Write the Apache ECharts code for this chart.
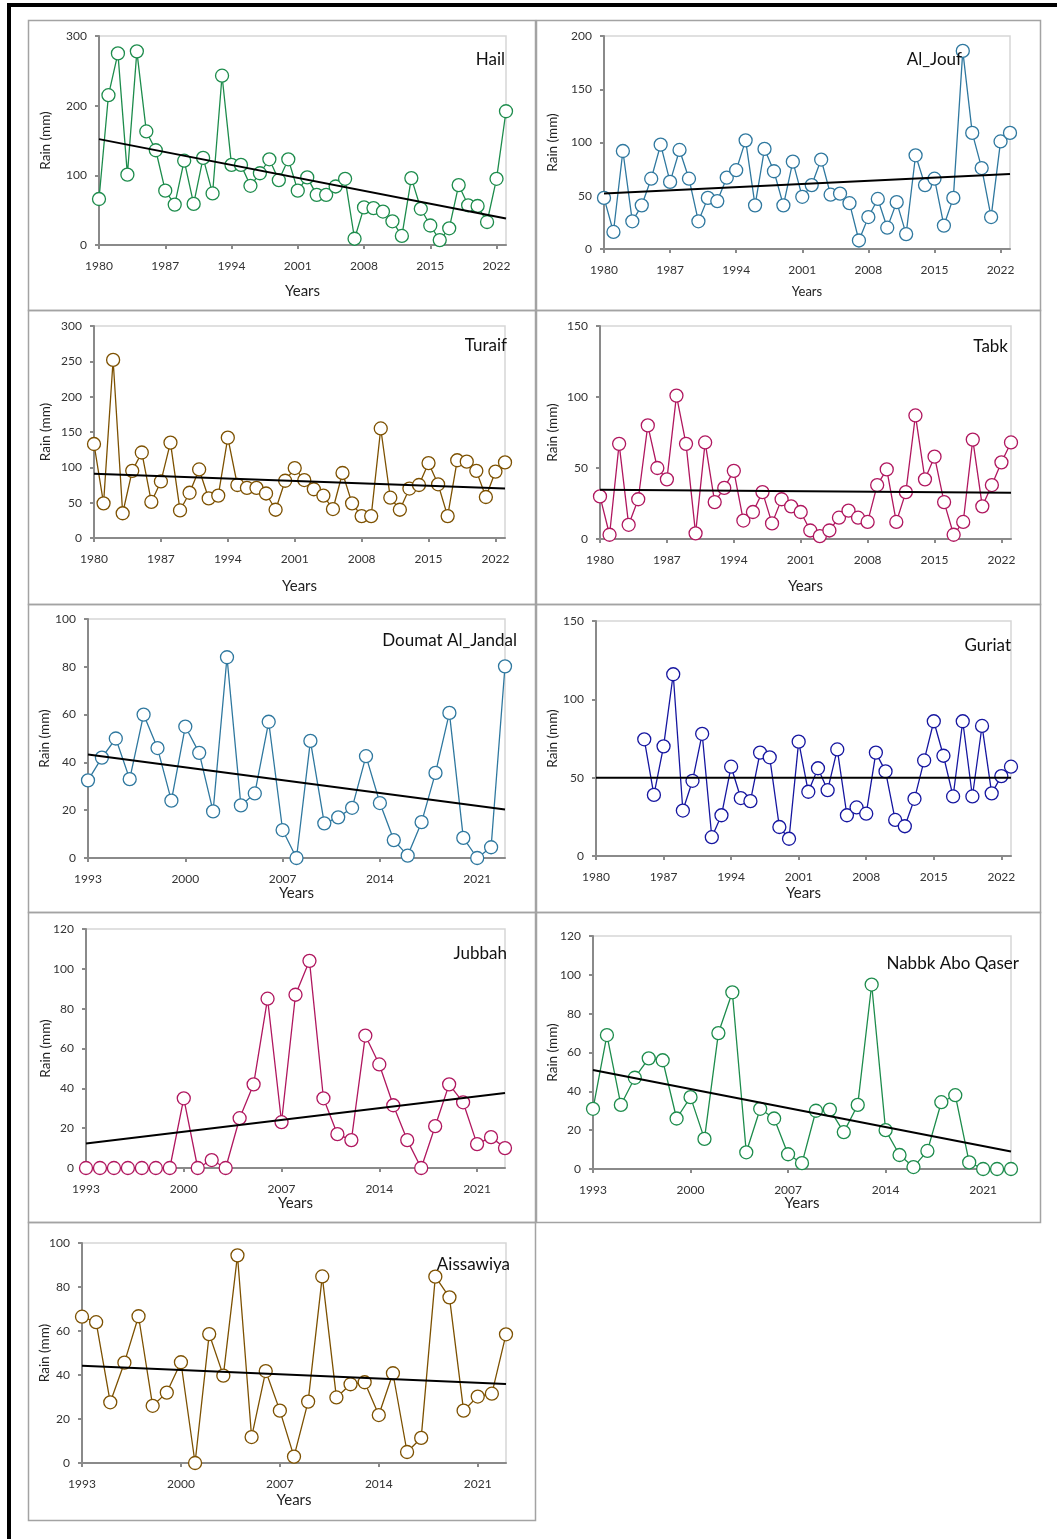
<!DOCTYPE html>
<html>
<head>
<meta charset="utf-8">
<script src="https://cdn.jsdelivr.net/npm/echarts@6/dist/echarts.min.js"></script>
<style>
html,body{margin:0;padding:0;background:#fff;}
#main{width:1057px;height:1539px;}
</style>
</head>
<body>
<div id="main"></div>
<script>
// category helpers
function yearRange(a, b) {
    let out = [];
    for (let y = a; y <= b; y++) out.push(String(y));
    return out;
}
const years80 = yearRange(1980, 2023);
const years93 = yearRange(1993, 2023);
const guriatYears = yearRange(1985, 2023);

// rainfall (mm)
const hailRain = [66,215,275,101,278,163,136,78,58,121, 59,125,74,243,115,115,85,103,123,93,
    123,78,97,72,72,84,95,9,54,53, 48,34,13,96,52,28,7,24,86,57, 56,33,95,192];
const alJoufRain = [48,16,92,26,41,66,98,63,93,66, 26,48,45,67,74,102,41,94,73,41,
    82,49,60,84,51,52,43,8,30,47, 20,44,14,88,60,66,22,48,186,109, 76,30,101,109];
const turaifRain = [133,49,252,35,95,121,51,80,135,39, 64,97,56,60,142,75,71,71,63,40,
    81,99,82,69,60,41,92,49,31,31, 155,57,40,70,75,106,76,31,110,108, 95,58,94,107];
const tabkRain = [30,3,67,10,28,80,50,42,101,67, 4,68,26,36,48,13,19,33,11,28,
    23,19,6,2,6,15,20,15,12,38, 49,12,33,87,42,58,26,3,12,70, 23,38,54,68];
const doumatRain = [32.5,42,50,33,60,46,24,55,44,19.5, 84,22,27,57,11.7,0,49,14.5,17,21,
    42.6,23,7.5,1,15,35.6,60.7,8.4,0,4.5, 80.2];
const guriatRain = [74.5,39,70,116,29,48,78,12,26,57, 37,35,66,63,18.5,11,73,41,56,42,
    68,26,31,27,66,54,23,19,36.5,61, 86,64,38,86,38,83,40,51,57];
const jubbahRain = [0,0,0,0,0,0,0,35,0,4, 0,25,42,85,23,87,104,35,17,14,
    66.5,52,31.5,14,0,21,42,33,12,15.5, 10];
const nabbkRain = [31,69,33,47,57,56,26,37,15.5,70, 91,8.6,31,26,7.6,3,30,30.6,19,33,
    95,20,7.2,1,9.3,34.4,38,3.4,0,0, 0];
const aissawiyaRain = [66.5,64,27.6,45.6,66.7,26,32,45.8,0,58.6, 39.7,94.4,11.8,41.8,23.8,2.9,27.9,84.8,29.8,35.8,
    36.7,21.8,40.8,5,11.4,84.7,75.3,23.8,30.2,31.5, 58.5];

// linear trend, value at first and last year
const hailTrend = [152, 38];
const alJoufTrend = [52, 70.5];
const turaifTrend = [91, 70];
const tabkTrend = [34.7, 32.6];
const doumatTrend = [43.3, 20.3];
const guriatTrend = [50, 50];
const jubbahTrend = [12.3, 37.6];
const nabbkTrend = [51, 9];
const aissawiyaTrend = [44.2, 35.9];

// y axis scales [max, step]
const hailScale = [300, 100];
const alJoufScale = [200, 50];
const turaifScale = [300, 50];
const tabkScale = [150, 50];
const doumatScale = [100, 20];
const guriatScale = [150, 50];
const jubbahScale = [120, 20];
const nabbkScale = [120, 20];
const aissawiyaScale = [100, 20];

let panels = [
    {name:'Hail', axis:years80, yrs:years80, rain:hailRain, trend:hailTrend, scale:hailScale, color:'#1d8c4c',
        g:[99,36,506,245], title:[505,60], yName:46, xName:292, xSize:15},
    {name:'Al_Jouf', axis:years80, yrs:years80, rain:alJoufRain, trend:alJoufTrend, scale:alJoufScale, color:'#2f789f',
        g:[604,36,1010,249], title:[962,60], yName:553, xName:293, xSize:13},
    {name:'Turaif', axis:years80, yrs:years80, rain:turaifRain, trend:turaifTrend, scale:turaifScale, color:'#7d5100',
        g:[94,326,505,538], title:[507,346], yName:46, xName:587, xSize:15},
    {name:'Tabk', axis:years80, yrs:years80, rain:tabkRain, trend:tabkTrend, scale:tabkScale, color:'#b0175f',
        g:[600,326,1011,539], title:[1008,347], yName:553, xName:587, xSize:15},
    {name:'Doumat Al_Jandal', axis:years93, yrs:years93, rain:doumatRain, trend:doumatTrend, scale:doumatScale, color:'#2f789f',
        g:[88,619,505,858], title:[517,641], yName:45, xName:894, xSize:15},
    {name:'Guriat', axis:years80, yrs:guriatYears, rain:guriatRain, trend:guriatTrend, scale:guriatScale, color:'#1616a0',
        g:[596,621,1011,856], title:[1011,646], yName:553, xName:894, xSize:15},
    {name:'Jubbah', axis:years93, yrs:years93, rain:jubbahRain, trend:jubbahTrend, scale:jubbahScale, color:'#b0175f',
        g:[86,929,505,1168], title:[507,954], yName:46, xName:1204, xSize:15},
    {name:'Nabbk Abo Qaser', axis:years93, yrs:years93, rain:nabbkRain, trend:nabbkTrend, scale:nabbkScale, color:'#1d8c4c',
        g:[593,936,1011,1169], title:[1019,964], yName:553, xName:1204, xSize:15},
    {name:'Aissawiya', axis:years93, yrs:years93, rain:aissawiyaRain, trend:aissawiyaTrend, scale:aissawiyaScale, color:'#7d5100',
        g:[82,1243,506,1463], title:[510,1265], yName:45, xName:1501, xSize:15}
];

// panel frames
let boxes = [
    [28,20,507,290],[536,20,504,290],
    [28,310,507,294],[536,310,504,294],
    [28,604,507,308],[536,604,504,308],
    [28,912,507,310],[536,912,504,310],
    [28,1222,507,298]
];

let FONT = 'Lato';
let grids = [], xAxes = [], yAxes = [], series = [], graphics = [];

graphics.push({type:'rect', shape:{x:7,y:3,width:1050,height:4}, style:{fill:'#000'}, z:10});
graphics.push({type:'rect', shape:{x:7,y:3,width:4,height:1536}, style:{fill:'#000'}, z:10});
boxes.forEach(function(b){
    graphics.push({type:'rect', shape:{x:b[0]+0.5,y:b[1]+0.5,width:b[2],height:b[3]},
        style:{fill:'none', stroke:'#a3a3a3', lineWidth:1.5}, z:10});
});

panels.forEach(function(p, i){
    grids.push({
        left:p.g[0], top:p.g[1], width:p.g[2]-p.g[0], height:p.g[3]-p.g[1],
        show:true, borderColor:'#d6d6d6', borderWidth:1.5, containLabel:false
    });
    xAxes.push({
        gridIndex:i, type:'category', data:p.axis, boundaryGap:false,
        name:'Years', nameLocation:'middle', nameGap:p.xName - p.g[3] - p.xSize/2 - 1,
        nameMoveOverlap:false,
        nameTextStyle:{fontFamily:FONT, fontSize:p.xSize, color:'#222'},
        axisLine:{lineStyle:{color:'#8a8a8a', width:2}},
        axisTick:{length:4, interval:function(idx){ return idx % 7 === 0; }, lineStyle:{color:'#8a8a8a', width:2}},
        axisLabel:{margin:15, interval:function(idx){ return idx % 7 === 0; },
            fontFamily:FONT, fontSize:12, color:'#333'},
        splitLine:{show:false}
    });
    yAxes.push({
        gridIndex:i, type:'value', min:0, max:p.scale[0], interval:p.scale[1],
        name:'Rain (mm)', nameLocation:'middle', nameRotate:90, nameGap:p.g[0] - p.yName - 7,
        nameMoveOverlap:false,
        nameTextStyle:{fontFamily:FONT, fontSize:13.5, color:'#222'},
        axisLine:{show:true, lineStyle:{color:'#8a8a8a', width:2}},
        axisTick:{show:true, length:4, lineStyle:{color:'#8a8a8a', width:2}},
        axisLabel:{margin:12, fontFamily:FONT, fontSize:12, color:'#333'},
        splitLine:{show:false}
    });
    series.push({
        type:'line', xAxisIndex:i, yAxisIndex:i,
        data:p.yrs.map(function(y, k){ return [y, p.rain[k]]; }),
        symbol:'circle', symbolSize:13, showAllSymbol:true, clip:false,
        lineStyle:{color:p.color, width:1.3},
        itemStyle:{color:'#fff', borderColor:p.color, borderWidth:1.3},
        emphasis:{disabled:true}, animation:false, z:3
    });
    series.push({
        type:'line', xAxisIndex:i, yAxisIndex:i,
        data:[[p.axis[0], p.trend[0]], [p.axis[p.axis.length-1], p.trend[1]]],
        symbol:'none', lineStyle:{color:'#000', width:2},
        emphasis:{disabled:true}, animation:false, z:4
    });
    graphics.push({type:'text', x:p.title[0], y:p.title[1], z:12,
        style:{text:p.name, align:'right', verticalAlign:'middle', fontFamily:FONT, fontSize:17, fill:'#111'}});
});

let myChart = echarts.init(document.getElementById('main'), null, {renderer:'canvas'});
myChart.setOption({
    backgroundColor:'#fff',
    animation:false,
    grid:grids,
    xAxis:xAxes,
    yAxis:yAxes,
    series:series,
    graphic:graphics
});
</script>
</body>
</html>
